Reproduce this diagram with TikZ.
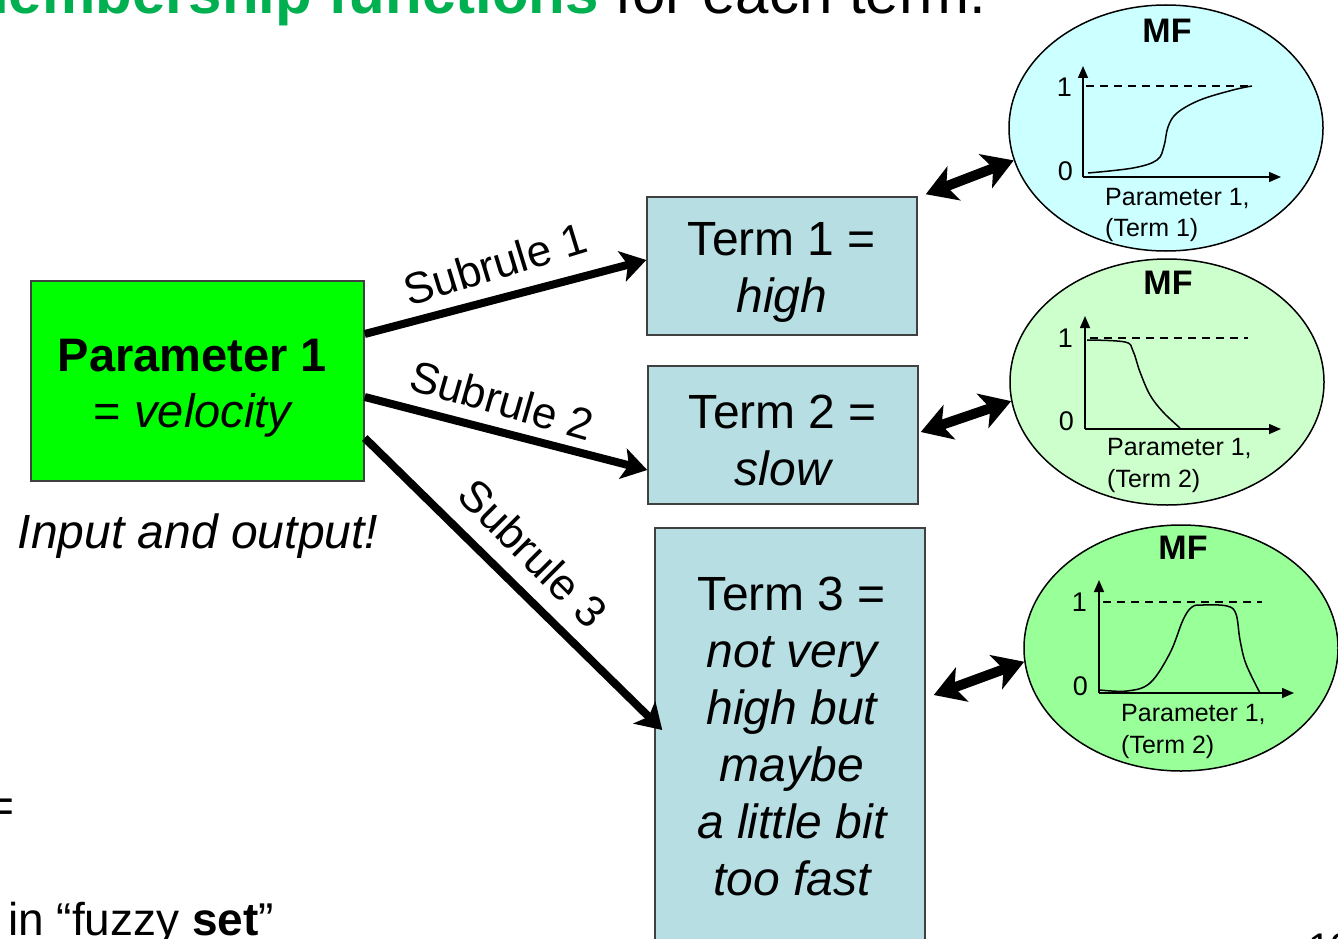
\documentclass[tikz,border=0pt]{standalone}
\usepackage{fontspec}
\setmainfont{Liberation Sans}
\usetikzlibrary{shapes.geometric,arrows.meta}

\definecolor{titlegreen}{HTML}{00B050}
\definecolor{paramgreen}{HTML}{00FF00}
\definecolor{termblue}{HTML}{B7DEE3}
\definecolor{mfcyan}{HTML}{CCFFFF}
\definecolor{mfpale}{HTML}{CCFFCC}
\definecolor{mfgreen}{HTML}{99FF99}
\definecolor{boxline}{HTML}{404040}

\newcommand\fsz[2]{\fontsize{#1}{#2}\selectfont}

\begin{document}
\begin{tikzpicture}[x=1pt,y=-1pt,
  parambox/.style={draw=boxline, line width=1.5pt, fill=paramgreen, inner sep=0pt},
  termbox/.style={draw=boxline, line width=1.5pt, fill=termblue, inner sep=0pt},
  boxtext/.style={inner sep=0pt, align=center, font=\fsz{48}{57}},
  mfellipse/.style={ellipse, draw=black, line width=1.5pt, minimum width=314pt,
    minimum height=246pt, inner sep=0pt},
  rulelabel/.style={inner sep=0pt, font=\fsz{44}{50}},
  subrule/.style={line width=8pt, -{Stealth[length=25pt,width=31pt,inset=6pt]}},
  dblarrow/.style={line width=10pt,
    {Stealth[length=30pt,width=36pt,inset=8pt]}-{Stealth[length=30pt,width=36pt,inset=8pt]}},
  mftitle/.style={inner sep=0pt, font=\fsz{34}{40}\bfseries},
  mftick/.style={inner sep=0pt, anchor=east, font=\fsz{27}{32}},
  mfcaption/.style={inner sep=0pt, anchor=base west, font=\fsz{25}{30}},
  axis/.style={line width=1.5pt, -{Triangle[length=12pt,width=10pt]}},
  level/.style={line width=1.3pt, dash pattern=on 8pt off 6pt},
  curve/.style={line width=1.5pt, smooth, tension=0.6}
]
\useasboundingbox (0,0) rectangle (1338,939);
\clip (0,0) rectangle (1338,939);

% heading line running off the top edge
\node[inner sep=0pt, anchor=base east, font=\fsz{60}{70}] (head) at (986,14)
  {\textcolor{titlegreen}{\bfseries membership functions} for each term.};

% input parameter
\node[parambox, minimum width=333pt, minimum height=200pt] (p) at (197.5,381) {};
\node[boxtext, font=\fsz{47}{56}] (ptxt) at ([xshift=-5pt,yshift=-7pt]p.center)
  {\bfseries Parameter 1\\= \itshape velocity};
\node[inner sep=0pt, anchor=base, font=\fsz{48}{56}\itshape] (io) at (198,548)
  {Input and output!};

% linguistic terms
\node[termbox, minimum width=270pt, minimum height=138pt] (t1) at (782,266) {};
\node[boxtext] (t1txt) at ([yshift=-6pt]t1.center) {Term 1 =\\\itshape high};
\node[termbox, minimum width=270pt, minimum height=138pt] (t2) at (783,435) {};
\node[boxtext] (t2txt) at ([yshift=-5pt]t2.center) {Term 2 =\\\itshape slow};
\node[termbox, minimum width=270pt, minimum height=434pt] (t3) at (790,745) {};
\node[boxtext] (t3txt) at ([xshift=2pt,yshift=9pt]t3.center)
  {Term 3 =\\\itshape not very\\\itshape high but\\\itshape maybe\\\itshape a little bit\\\itshape too fast};

% subrule connectors
\draw[subrule] ([yshift=47pt]p.east) -- ([yshift=6pt]t1.west);
\draw[subrule] ([yshift=-16pt]p.east) -- ([yshift=-35pt]t2.west);
\draw[subrule] ([yshift=-57pt]p.east) -- ([xshift=8pt,yshift=15pt]t3.west);
\node[rulelabel, rotate=17] (s1) at (495,264) {Subrule 1};
\node[rulelabel, rotate=-16] (s2) at (502,400) {Subrule 2};
\node[rulelabel, rotate=-45] (s3) at (533,553) {Subrule 3};

% membership function ellipses
\node[mfellipse, fill=mfcyan] (e1) at (1166,128) {};
\node[mfellipse, fill=mfpale] (e2) at (1167,382) {};
\node[mfellipse, fill=mfgreen] (e3) at (1181,648) {};

% MF 1: rising
\node[mftitle] (m1) at (1167,31) {MF};
\draw[axis] (1083,177) -- (1083,66);
\draw[axis] (1083,177) -- (1281,177);
\draw[level] (1086,86) -- (1252,86);
\draw[curve] plot coordinates {(1088,173) (1133,168) (1157,160) (1164,146) (1168,127)
  (1177,113) (1200,100) (1233,90) (1252,86)};
\node[mftick] (a1) at (1072,87) {1};
\node[mftick] (b1) at (1073,171) {0};
\node[mfcaption] (c1) at (1105,205) {Parameter 1,};
\node[mfcaption] (d1) at (1105,236) {(Term 1)};

% MF 2: falling
\node[mftitle] (m2) at (1168,283) {MF};
\draw[axis] (1085,429) -- (1085,316);
\draw[axis] (1085,429) -- (1281,429);
\draw[level] (1090,338) -- (1248,338);
\draw[curve] plot coordinates {(1087,340) (1125,342) (1133,351) (1140,372)
  (1150,395) (1163,412) (1180,428)};
\node[mftick] (a2) at (1073,338) {1};
\node[mftick] (b2) at (1074,421) {0};
\node[mfcaption] (c2) at (1107,455) {Parameter 1,};
\node[mfcaption] (d2) at (1107,487) {(Term 2)};

% MF 3: bell
\node[mftitle] (m3) at (1183,548) {MF};
\draw[axis] (1099,693) -- (1099,580);
\draw[axis] (1099,693) -- (1294,693);
\draw[level] (1103,602) -- (1262,602);
\draw[curve] plot coordinates {(1100,690) (1127,691) (1150,683) (1170,653) (1183,620)
  (1192,607) (1203,605) (1227,606) (1236,614) (1240,640) (1246,664) (1260,693)};
\node[mftick] (a3) at (1087,602) {1};
\node[mftick] (b3) at (1088,686) {0};
\node[mfcaption] (c3) at (1121,721) {Parameter 1,};
\node[mfcaption] (d3) at (1121,753) {(Term 2)};

% term <-> membership function links
\draw[dblarrow] ([xshift=8pt,yshift=2pt]t1.north east) -- (e1.192);
\draw[dblarrow] ([xshift=2pt,yshift=3pt]t2.east) -- (e2.187);
\draw[dblarrow] ([xshift=8pt,yshift=50pt]t3.east) -- (e3.185);

% fragments at the lower edges
\node[inner sep=0pt, anchor=base east, font=\fsz{48}{56}] (eq) at (15,822) {=};
\node[inner sep=0pt, anchor=base west, font=\fsz{46}{54}] (fz) at (8,935)
  {in “fuzzy \textbf{set}”};
\node[inner sep=0pt, anchor=base west, font=\fsz{40}{48}] (pg) at (1308,961) {12};
\end{tikzpicture}
\end{document}
